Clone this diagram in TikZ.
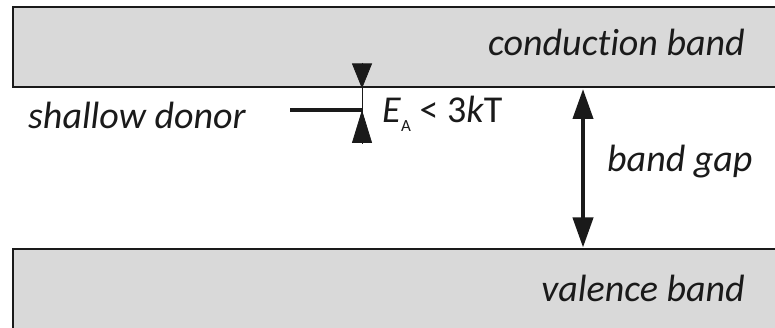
\documentclass[tikz,border=0pt]{standalone}
\usepackage{fontspec}
\setmainfont{Carlito}[Ligatures=NoCommon]
\usetikzlibrary{arrows.meta}
\definecolor{bandfill}{HTML}{D9D9D9}
\definecolor{ink}{HTML}{1A1A1A}
\begin{document}
\begin{tikzpicture}[x=1pt,y=-1pt,
  lbl/.style={inner sep=0pt,text=ink,font=\fontsize{38}{42}\selectfont\itshape},
  band/.style={fill=bandfill,draw=ink,line width=2.5pt},
  tipbig/.style={ink,line width=4pt,{Triangle[width=20pt,length=30pt]}-{Triangle[width=20pt,length=30pt]}},
  tipsmall/.style={ink,line width=0.8pt,-{Triangle[width=20pt,length=25pt]}},
  tiplong/.style={ink,line width=0.8pt,-{Triangle[width=20pt,length=33pt]}}]
\useasboundingbox (0,0) rectangle (775,328);
\clip (0,0) rectangle (775,328);
% bands
\draw[band] (13,7) rectangle (790,87);
\draw[band] (13,249) rectangle (790,340);
\node[lbl,anchor=base east] (cb) at (745,56) {conduction band};
\node[lbl,anchor=base east] (vb) at (745,301) {valence band};
% band gap
\coordinate (gt) at (583,89);
\coordinate (gb) at (583,247.5);
\draw[tipbig] (gt) -- (gb);
\node[lbl,anchor=base west] (bg) at (607,172) {band gap};
% shallow donor
\node[lbl,anchor=base west] (sd) at (28,129) {shallow donor};
\coordinate (dl) at (290,110);
\coordinate (dr) at (363,110);
\draw[ink,line width=4pt] (dl) -- (dr);
\coordinate (vt) at (362,63);
\coordinate (vc) at (362,88.5);
\coordinate (vb2) at (362,143);
\coordinate (vd) at (362,110);
\draw[ink,line width=0.8pt] (vt) -- (vb2);
\draw[tipsmall] (vt) -- (vc);
\draw[tiplong] (vb2) -- (vd);
\node[inner sep=0pt,text=ink,anchor=base west,font=\fontsize{38}{42}\selectfont] (ea) at (382,123)
  {\textit{E}\raisebox{-9pt}{\fontsize{17}{17}\selectfont A} {<} 3\textit{k}T};
\end{tikzpicture}
\end{document}
